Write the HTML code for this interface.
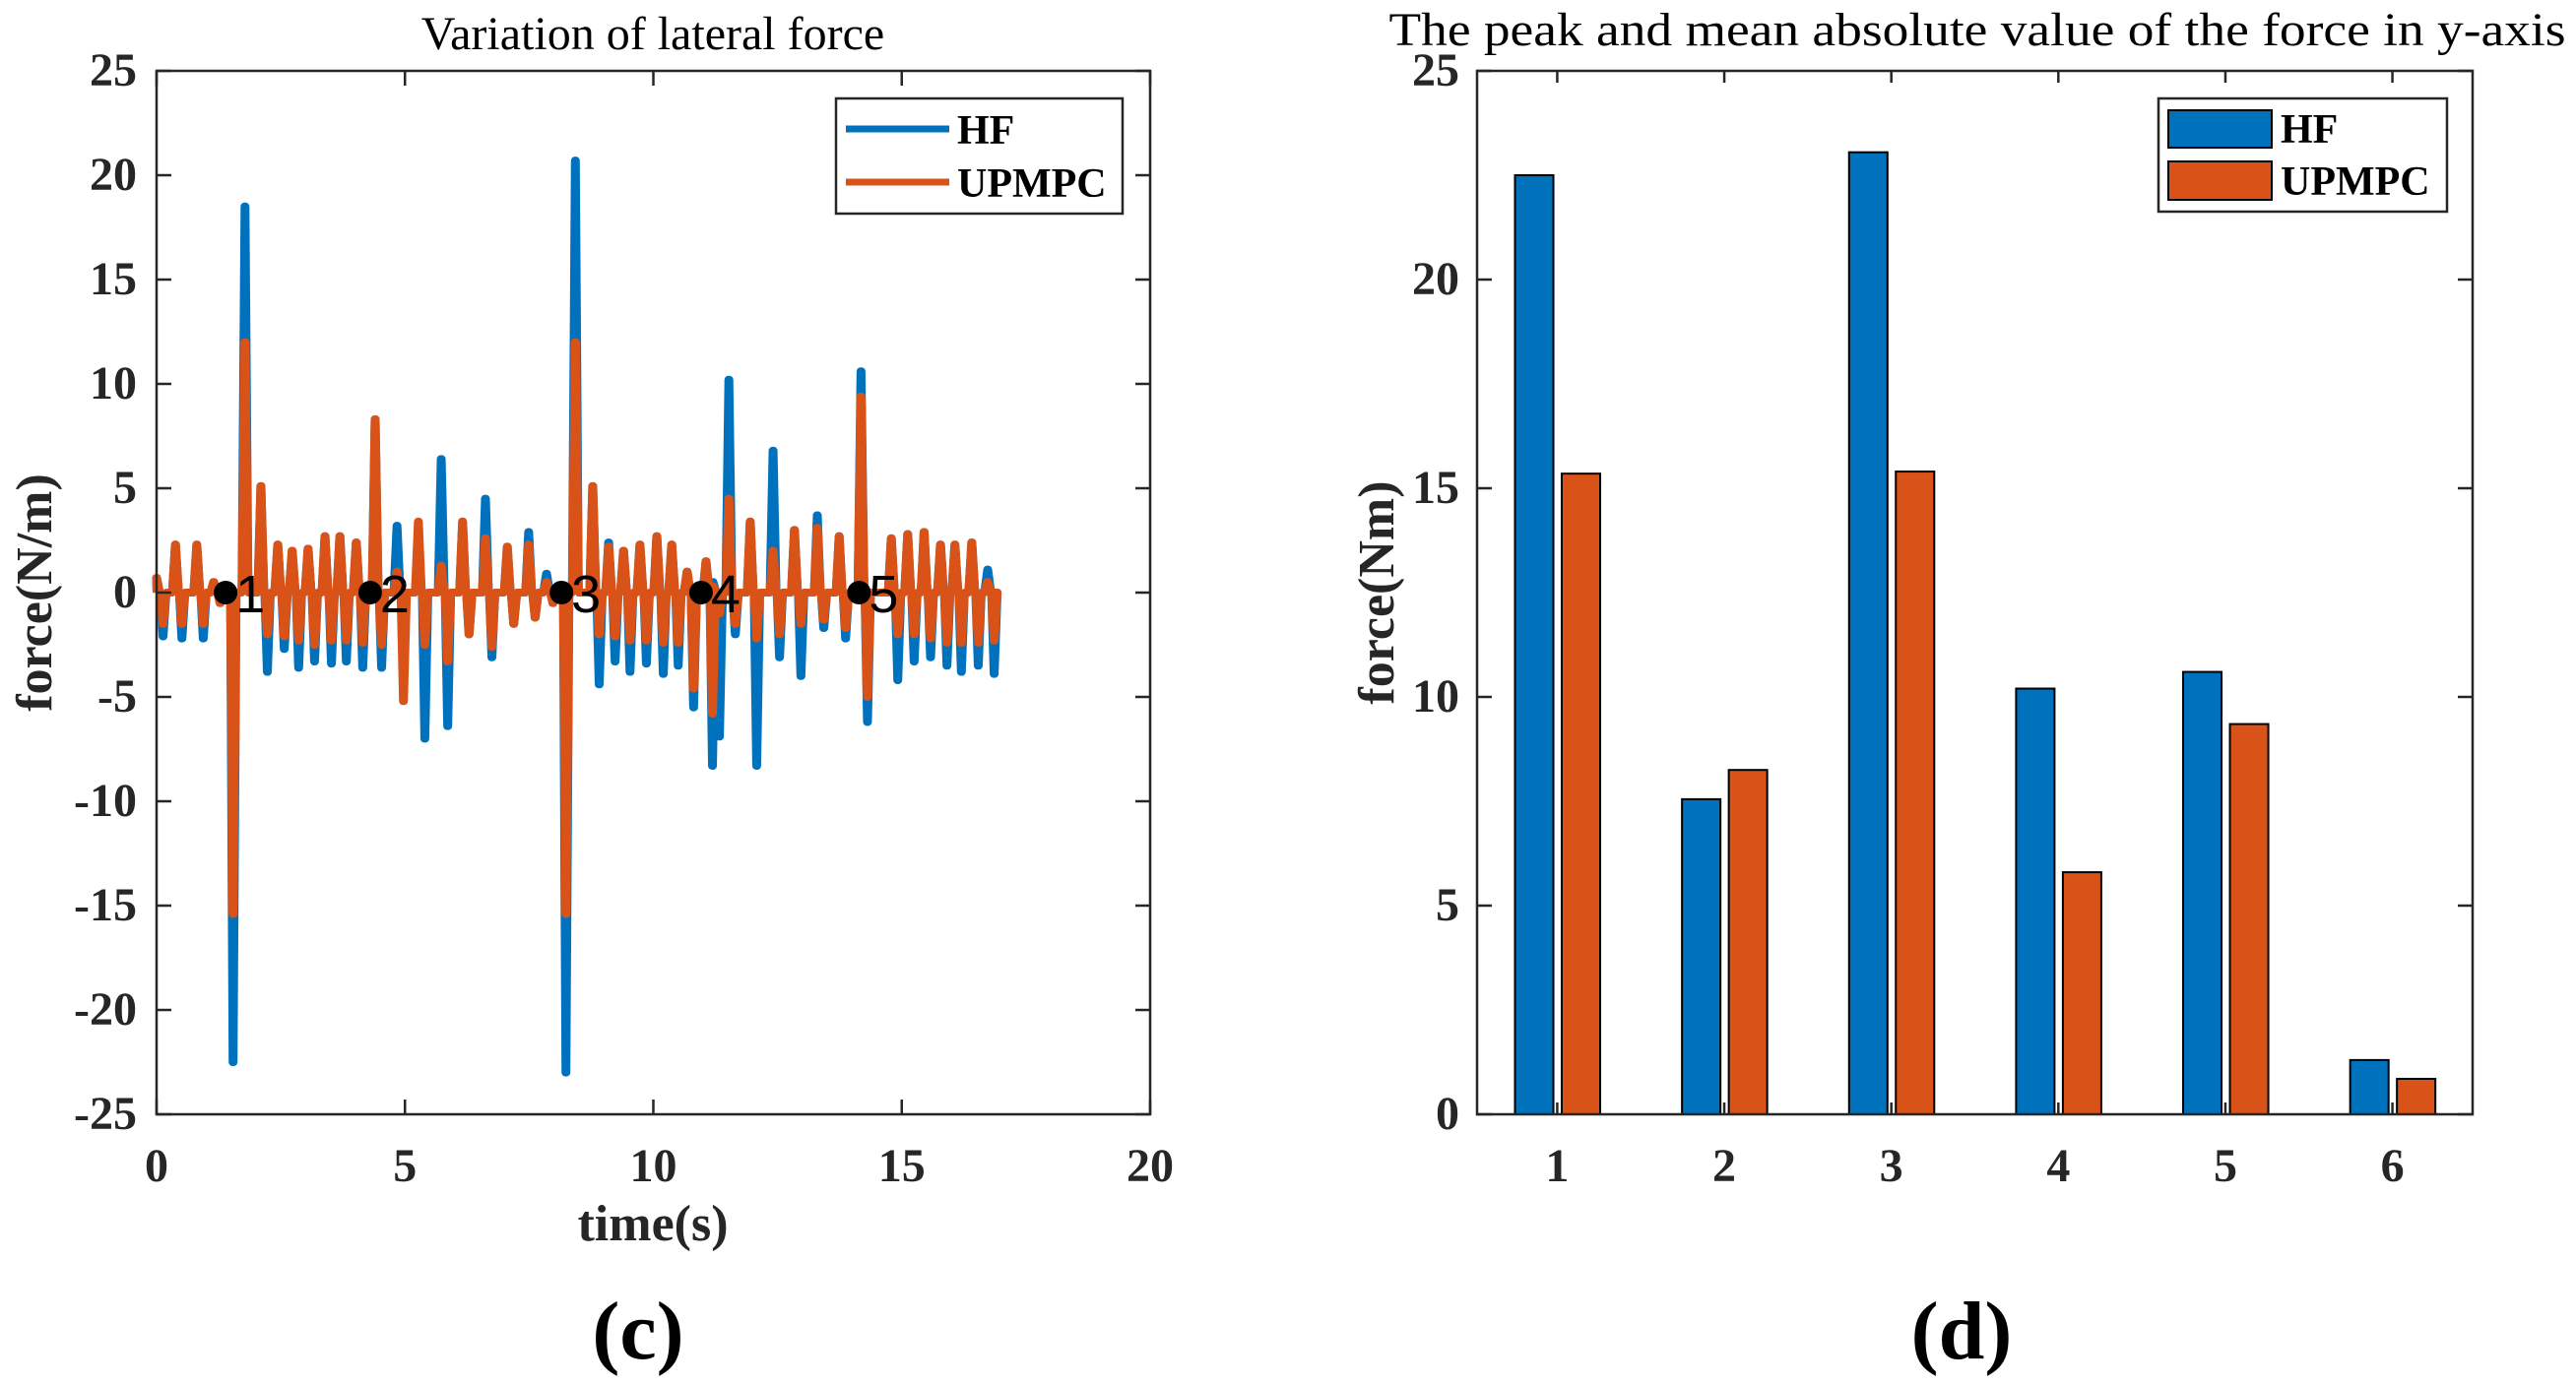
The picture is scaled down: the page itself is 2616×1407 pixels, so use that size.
<!DOCTYPE html>
<html><head><meta charset="utf-8">
<style>
html,body{margin:0;padding:0;background:#fff;}
svg{display:block;}
text{font-family:"Liberation Serif","DejaVu Serif",serif;fill:#262626;}
</style></head>
<body>
<svg id="fig" width="2616" height="1407" viewBox="0 0 2616 1407" xmlns="http://www.w3.org/2000/svg"></svg>
<script>
// ---- Chart (c) data: pulse events ----
const pulseTimes = [0.0,0.38,0.81,1.15,1.41,1.78,2.1,2.44,2.73,3.05,3.39,3.69,4.02,4.40,4.84,5.27,5.73,6.16,6.62,7.06,7.49,7.85,8.11,8.43,8.78,9.1,9.4,9.73,10.07,10.37,10.68,11.06,11.2,11.52,11.95,12.41,12.84,13.3,13.74,14.18,14.79,15.12,15.45,15.78,16.07,16.41,16.73];
const hfHigh = [0.7,2.3,2.3,0.5,0,18.5,5.1,2.3,2.0,2.1,2.7,2.7,2.4,8.3,3.2,2.5,6.4,3.4,4.5,2.2,2.9,0.9,0,20.7,5.1,2.4,2.0,2.3,2.7,2.3,1.0,1.5,0.5,10.2,3.4,6.8,3.0,3.7,2.7,10.6,2.6,2.8,2.9,2.3,2.3,2.4,1.1];
const hfLow = [-2.1,-2.2,-2.2,-0.5,-22.5,0,-3.8,-2.7,-3.6,-3.3,-3.4,-3.3,-3.6,-3.6,-1,-7.0,-6.4,-2,-3.1,-1.5,-1.2,-0.5,-23,0,-4.4,-3.3,-3.8,-3.4,-3.9,-3.5,-5.5,-8.3,-6.9,-2,-8.3,-3.1,-4.0,-1.7,-2.2,-6.2,-4.2,-3.3,-3.1,-3.5,-3.8,-3.5,-3.9];
const upHigh = [0.7,2.3,2.3,0.5,0,12,5.1,2.3,2.0,2.1,2.7,2.7,2.4,8.3,1,3.4,1.3,3.4,2.6,2.2,2.3,0.5,0,12,5.1,2.2,2.0,2.3,2.7,2.3,1.0,1.5,0.3,4.5,3.4,2.0,3.0,3.1,2.7,9.4,2.6,2.8,2.9,2.3,2.3,2.4,0.5];
const upLow = [-1.5,-1.5,-1.5,-0.5,-15.4,0,-2,-2.1,-2.3,-2.5,-2.3,-2.3,-2.4,-2.5,-5.2,-2.5,-3.3,-2,-2.6,-1.5,-1.2,-0.5,-15.4,0,-2,-2.1,-2.3,-2.3,-2.4,-2.4,-4.6,-5.8,-1,-1.5,-2.2,-2.0,-1.5,-1.3,-1.7,-5.0,-2.0,-2.0,-2.2,-2.4,-2.4,-2.4,-2.3];
const endTime = 16.85;
const markerTimes = [1.39,4.3,8.15,10.96,14.14];
const markerLabels = ["1","2","3","4","5"];
const xTicksC = [0,5,10,15,20];
const yTicksC = [-25,-20,-15,-10,-5,0,5,10,15,20,25];
// ---- Chart (d) data ----
const categories = ["1","2","3","4","5","6"];
const hfValues = [22.5,7.55,23.05,10.2,10.6,1.3];
const upValues = [15.35,8.25,15.4,5.8,9.35,0.85];
const yTicksD = [0,5,10,15,20,25];

const NS="http://www.w3.org/2000/svg";
const svg=document.getElementById('fig');
function el(tag,attrs,parent,txt){const e=document.createElementNS(NS,tag);for(const k in attrs)e.setAttribute(k,attrs[k]);if(txt!==undefined)e.textContent=txt;(parent||svg).appendChild(e);return e;}
const BLUE="#0072BD", ORANGE="#D95319", AX="#262626";

// ===== Chart (c) =====
const cL=159,cR=1168,cT=72,cB=1132;
const xC=t=>cL+(t-0)/(20-0)*(cR-cL);
const yC=v=>cB-(v+25)/50*(cB-cT);
const gC=el('g',{});


function seriesPath(hi,lo){
  let d="M"+xC(0)+","+yC(0);
  for(let i=0;i<pulseTimes.length;i++){
    const t=pulseTimes[i];
    d+=" L"+xC(Math.max(0,t-0.07))+","+yC(0)+" L"+xC(t-0.01)+","+yC(hi[i])+" L"+xC(t+0.01)+","+yC(hi[i])+" L"+xC(t+0.07)+","+yC(0)+" L"+xC(t+0.12)+","+yC(lo[i])+" L"+xC(t+0.14)+","+yC(lo[i])+" L"+xC(t+0.2)+","+yC(0);
  }
  d+=" L"+xC(endTime)+","+yC(0);
  return d;
}
const hfLine=el('path',{d:seriesPath(hfHigh,hfLow),fill:'none',stroke:BLUE,'stroke-width':8,'stroke-linejoin':'round'},gC);


const upLine=el('path',{d:seriesPath(upHigh,upLow),fill:'none',stroke:ORANGE,'stroke-width':8,'stroke-linejoin':'round'},gC);


markerTimes.forEach((t,i)=>{
  const c=el('circle',{cx:xC(t),cy:yC(0),r:12,fill:'#000'},gC);
  
  
  const tx=el('text',{x:xC(t)+10,y:yC(0)+20,'font-size':54,style:'font-family:"Liberation Sans",sans-serif;fill:#000'},gC,markerLabels[i]);
  
  
});
const boxC=el('rect',{x:cL,y:cT,width:cR-cL,height:cB-cT,fill:'none',stroke:AX,'stroke-width':2.5},gC);


xTicksC.forEach(v=>{
  el('line',{x1:xC(v),x2:xC(v),y1:cB,y2:cB-15,stroke:AX,'stroke-width':2.5},gC);
  el('line',{x1:xC(v),x2:xC(v),y1:cT,y2:cT+15,stroke:AX,'stroke-width':2.5},gC);
  const t=el('text',{x:xC(v),y:1200,'font-size':48,'font-weight':'bold','text-anchor':'middle'},gC,String(v));
  
  
});
yTicksC.forEach(v=>{
  el('line',{x1:cL,x2:cL+15,y1:yC(v),y2:yC(v),stroke:AX,'stroke-width':2.5},gC);
  el('line',{x1:cR,x2:cR-15,y1:yC(v),y2:yC(v),stroke:AX,'stroke-width':2.5},gC);
  const t=el('text',{x:139,y:yC(v)+15,'font-size':48,'font-weight':'bold','text-anchor':'end'},gC,String(v));
  
  
});
let t;
t=el('text',{x:663,y:50,'font-size':48,'text-anchor':'middle',style:'fill:#000'},gC,"Variation of lateral force");

t=el('text',{x:663,y:1260,'font-size':52,'font-weight':'bold','text-anchor':'middle'},gC,"time(s)");

t=el('text',{x:0,y:0,'font-size':52,'font-weight':'bold','text-anchor':'middle',transform:'translate(52,602) rotate(-90)'},gC,"force(N/m)");

t=el('text',{x:648,y:1380,'font-size':84,'font-weight':'bold','text-anchor':'middle',style:'fill:#000'},gC,"(c)");

// legend c
const lgC=el('g',{},gC);


el('rect',{x:849,y:100,width:291,height:117,fill:'#fff',stroke:AX,'stroke-width':2.5},lgC);
el('line',{x1:859,x2:964,y1:131,y2:131,stroke:BLUE,'stroke-width':7},lgC);
el('line',{x1:859,x2:964,y1:185,y2:185,stroke:ORANGE,'stroke-width':7},lgC);
t=el('text',{x:972,y:146,'font-size':42,'font-weight':'bold',style:'fill:#000'},lgC,"HF");

t=el('text',{x:972,y:200,'font-size':42,'font-weight':'bold',style:'fill:#000'},lgC,"UPMPC");


// ===== Chart (d) =====
const dL=1500,dR=2511,dT=72,dB=1132;
const xD=c=>dL+(c-0.52)/(6.48-0.52)*(dR-dL);
const yD=v=>dB-v/25*(dB-dT);
const gD=el('g',{});


const bw=0.23*(dR-dL)/5.96;
categories.forEach((c,i)=>{
  const cx=xD(i+1);
  const b1=el('rect',{x:xD(i+1-0.138)-bw/2,y:yD(hfValues[i]),width:bw,height:yD(0)-yD(hfValues[i]),fill:BLUE,stroke:'#000','stroke-width':2},gD);
  
  
  const b2=el('rect',{x:xD(i+1+0.142)-bw/2,y:yD(upValues[i]),width:bw,height:yD(0)-yD(upValues[i]),fill:ORANGE,stroke:'#000','stroke-width':2},gD);
  
  
  el('line',{x1:cx,x2:cx,y1:dB,y2:dB-12,stroke:AX,'stroke-width':2.5},gD);
  el('line',{x1:cx,x2:cx,y1:dT,y2:dT+12,stroke:AX,'stroke-width':2.5},gD);
  const tl=el('text',{x:cx,y:1200,'font-size':48,'font-weight':'bold','text-anchor':'middle'},gD,c);
  
  
});
const boxD=el('rect',{x:dL,y:dT,width:dR-dL,height:dB-dT,fill:'none',stroke:AX,'stroke-width':2.5},gD);


yTicksD.forEach(v=>{
  el('line',{x1:dL,x2:dL+15,y1:yD(v),y2:yD(v),stroke:AX,'stroke-width':2.5},gD);
  el('line',{x1:dR,x2:dR-15,y1:yD(v),y2:yD(v),stroke:AX,'stroke-width':2.5},gD);
  const tl=el('text',{x:1482,y:yD(v)+15,'font-size':48,'font-weight':'bold','text-anchor':'end'},gD,String(v));
  
  
});
t=el('text',{x:2008,y:46,'font-size':48,'text-anchor':'middle',textLength:1195,lengthAdjust:'spacingAndGlyphs',style:'fill:#000'},gD,"The peak and mean absolute value of the force in y-axis");

t=el('text',{x:0,y:0,'font-size':52,'font-weight':'bold','text-anchor':'middle',transform:'translate(1415,602) rotate(-90)'},gD,"force(Nm)");

t=el('text',{x:1992,y:1380,'font-size':84,'font-weight':'bold','text-anchor':'middle',style:'fill:#000'},gD,"(d)");

const lgD=el('g',{},gD);


el('rect',{x:2192,y:100,width:293,height:115,fill:'#fff',stroke:AX,'stroke-width':2.5},lgD);
el('rect',{x:2202,y:112,width:105,height:38,fill:BLUE,stroke:'#000','stroke-width':2},lgD);
el('rect',{x:2202,y:164,width:105,height:39,fill:ORANGE,stroke:'#000','stroke-width':2},lgD);
t=el('text',{x:2316,y:145,'font-size':42,'font-weight':'bold',style:'fill:#000'},lgD,"HF");

t=el('text',{x:2316,y:198,'font-size':42,'font-weight':'bold',style:'fill:#000'},lgD,"UPMPC");

</script>
</body></html>
